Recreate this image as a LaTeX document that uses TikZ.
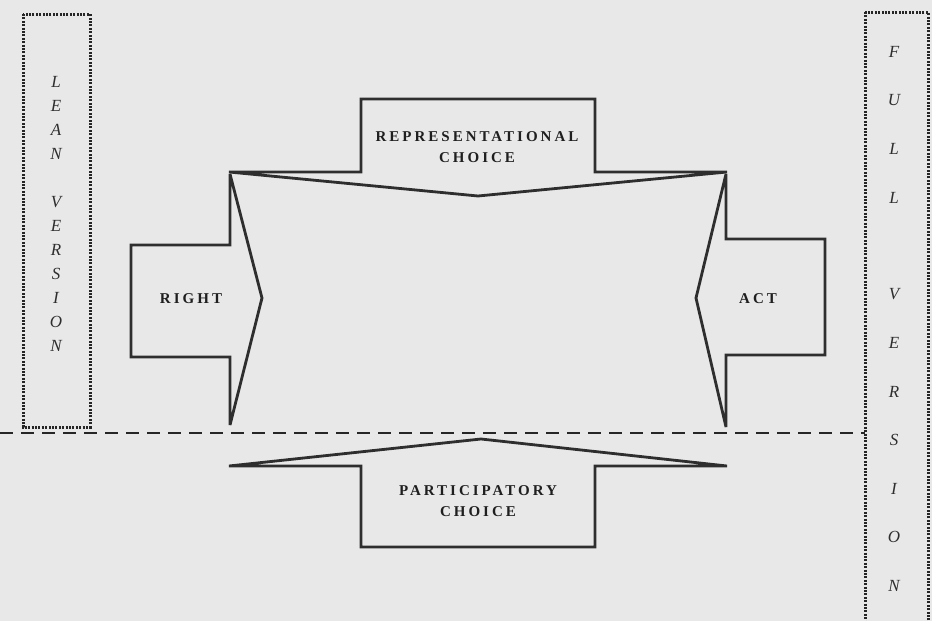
\documentclass[tikz,border=0pt]{standalone}
\usepackage{fontspec}
\setmainfont{Liberation Serif}
\newfontfamily\capsfont[LetterSpace=20]{Liberation Serif}
\begin{document}
\begin{tikzpicture}[x=1pt,y=-1pt,
  arrowshape/.style={draw=black!82,line width=2.8pt,line join=miter,miter limit=4},
  sidebox/.style={draw=black!85,line width=3pt,dash pattern=on 2pt off 1.4pt},
  divider/.style={draw=black!85,line width=2.8pt,dash pattern=on 13pt off 8pt},
  caplabel/.style={font=\capsfont\bfseries\fontsize{15}{21}\selectfont,text=black!88,align=center,inner sep=0pt},
  sideletter/.style={font=\itshape\fontsize{17}{20}\selectfont,text=black!82,inner sep=0pt}]
  % page and background
  \fill[black!9] (0,0) rectangle (932,621);
  \useasboundingbox (0,0) rectangle (932,621);

  % side panels
  \draw[sidebox] (23,14) rectangle (90,427);
  \draw[sidebox] (865,12) rectangle (928,640);

  % horizontal divider
  \draw[divider] (0,433) -- (865,433);

  % top arrow: representational choice
  \draw[arrowshape] (361,172) -- (361,99) -- (595,99) -- (595,172) -- (727,172)
    -- (478,196) -- (229,172) -- cycle;
  % left arrow: right
  \draw[arrowshape] (230,245) -- (131,245) -- (131,357) -- (230,357) -- (230,425)
    -- (262,298) -- (230,174) -- cycle;
  % right arrow: act
  \draw[arrowshape] (726,239) -- (825,239) -- (825,355) -- (726,355) -- (726,427)
    -- (696,298) -- (726,174) -- cycle;
  % bottom arrow: participatory choice
  \draw[arrowshape] (361,466) -- (361,547) -- (595,547) -- (595,466) -- (727,466)
    -- (481,439) -- (229,466) -- cycle;

  % arrow labels
  \node[caplabel] (repr) at (477,147) {REPRESENTATIONAL\\CHOICE};
  \node[caplabel] (part) at (478,501) {PARTICIPATORY\\CHOICE};
  \node[caplabel] (right) at (191,299) {RIGHT};
  \node[caplabel] (act) at (758,299) {ACT};

  % vertical side texts
  \foreach \ch [count=\i from 0] in {L,E,A,N,{},V,E,R,S,I,O,N}
    \node[sideletter] (lean\i) at (56,82+24*\i) {\ch};
  \foreach \ch [count=\i from 0] in {F,U,L,L,{},V,E,R,S,I,O,N}
    \node[sideletter] (full\i) at (894,52+48.5*\i) {\ch};
\end{tikzpicture}
\end{document}
